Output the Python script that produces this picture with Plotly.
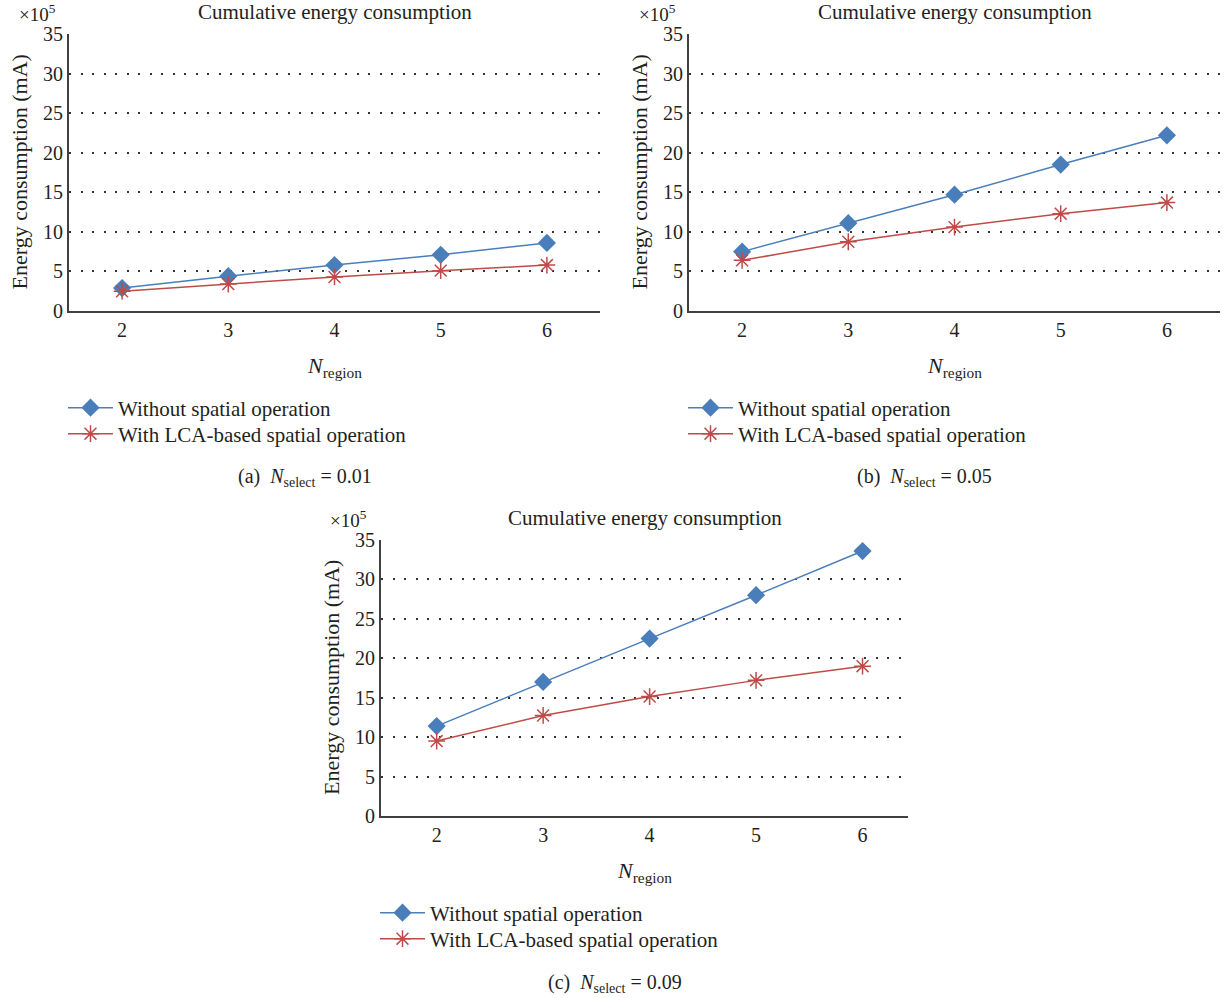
import plotly.graph_objects as go

W, H = 1225, 998
FONT = "Liberation Serif"

n_region = [2, 3, 4, 5, 6]
tick_labels = ["2", "3", "4", "5", "6"]
y_ticks = [0, 5, 10, 15, 20, 25, 30, 35]

without_a = [2.9, 4.4, 5.8, 7.1, 8.6]
with_a = [2.5, 3.4, 4.3, 5.1, 5.8]
without_b = [7.5, 11.1, 14.7, 18.5, 22.2]
with_b = [6.4, 8.75, 10.6, 12.3, 13.7]
without_c = [11.4, 17.0, 22.5, 28.0, 33.6]
with_c = [9.5, 12.75, 15.15, 17.2, 19.0]

series_names = ["Without spatial operation", "With LCA-based spatial operation"]
captions = ["(a)  <i>N</i><sub>select</sub> = 0.01",
            "(b)  <i>N</i><sub>select</sub> = 0.05",
            "(c)  <i>N</i><sub>select</sub> = 0.09"]

BLUE = "#4A7EBB"
RED = "#BE4B48"
AXIS = "#404040"
TXT = "#231F20"


def px(x):
    return x / W


def py(y):
    return 1 - y / H


# panel geometry in window pixels: (left, right, top, bottom)
panels = [
    (69, 600, 34, 311),
    (689, 1220, 34, 311),
    (381, 908, 540, 816),
]
x_ranges = [[1.5, 6.5], [1.5, 6.5], [1.477, 6.427]]
data = [(without_a, with_a), (without_b, with_b), (without_c, with_c)]

fig = go.Figure()

leg_idx = 0
for i, ((l, r, t, b), (s1, s2)) in enumerate(zip(panels, data)):
    k = "" if i == 0 else str(i + 1)
    for j, (s, nm) in enumerate(zip((s1, s2), series_names)):
        leg_idx += 1
        leg = "legend" if leg_idx == 1 else "legend" + str(leg_idx)
        if j == 0:
            marker = dict(symbol="diamond", size=14, color=BLUE)
            color = BLUE
        else:
            marker = dict(symbol="asterisk-open", size=14, color=RED,
                          line=dict(color=RED, width=1.5))
            color = RED
        fig.add_trace(go.Scatter(
            x=n_region, y=s, mode="lines+markers", name=nm,
            line=dict(color=color, width=1.5), marker=marker,
            xaxis="x" + k, yaxis="y" + k, legend=leg))

layout = dict(
    width=W, height=H,
    margin=dict(l=0, r=0, t=0, b=0, autoexpand=False),
    paper_bgcolor="white", plot_bgcolor="white",
    font=dict(family=FONT, size=21, color=TXT),
    showlegend=True,
)

annotations = []
leg_idx = 0
for i, (l, r, t, b) in enumerate(panels):
    k = "" if i == 0 else str(i + 1)
    layout["xaxis" + k] = dict(
        domain=[px(l), px(r)], range=x_ranges[i],
        tickvals=n_region, ticktext=tick_labels,
        showline=True, linecolor=AXIS, linewidth=2,
        showgrid=False, zeroline=False, ticks="", automargin=False,
        tickfont=dict(size=20, color=TXT), anchor="y" + k, fixedrange=True)
    layout["yaxis" + k] = dict(
        domain=[py(b), py(t)], range=[0, 35], tickvals=y_ticks,
        showline=True, linecolor=AXIS, linewidth=2,
        showgrid=True, gridcolor="#333333", gridwidth=1.6,
        griddash="2px,9.5px", zeroline=False, ticks="", automargin=False,
        tickfont=dict(size=20, color=TXT), anchor="x" + k, fixedrange=True)
    cx = (l + r) / 2
    annotations.append(dict(text="Cumulative energy consumption", x=px(cx), y=py(t - 22),
                            xref="paper", yref="paper", showarrow=False,
                            xanchor="center", yanchor="middle", font=dict(size=21)))
    annotations.append(dict(text="×10<sup>5</sup>", x=px(l - 32), y=py(t - 21),
                            xref="paper", yref="paper", showarrow=False,
                            xanchor="center", yanchor="middle", font=dict(size=19)))
    annotations.append(dict(text="Energy consumption (mA)", x=px(l - 50), y=py((t + b) / 2),
                            xref="paper", yref="paper", showarrow=False, textangle=-90,
                            xanchor="center", yanchor="middle", font=dict(size=22)))
    annotations.append(dict(text="<i>N</i><sub>region</sub>", x=px(cx), y=py(b + 56),
                            xref="paper", yref="paper", showarrow=False,
                            xanchor="center", yanchor="middle", font=dict(size=22)))
    annotations.append(dict(text=captions[i], x=px(cx - 30), y=py(b + 167),
                            xref="paper", yref="paper", showarrow=False,
                            xanchor="center", yanchor="middle", font=dict(size=20)))
    for j in range(2):
        leg_idx += 1
        key = "legend" if leg_idx == 1 else "legend" + str(leg_idx)
        layout[key] = dict(
            x=px(l - 6), y=py(b + 97 + 26 * j), xanchor="left", yanchor="middle",
            bgcolor="rgba(0,0,0,0)", font=dict(size=21, color=TXT),
            itemwidth=45, borderwidth=0)

layout["annotations"] = annotations
fig.update_layout(**layout)
fig.write_html("out.html", config={"displayModeBar": False},
               post_script="document.body.style.margin='0';document.body.style.padding='0';")
